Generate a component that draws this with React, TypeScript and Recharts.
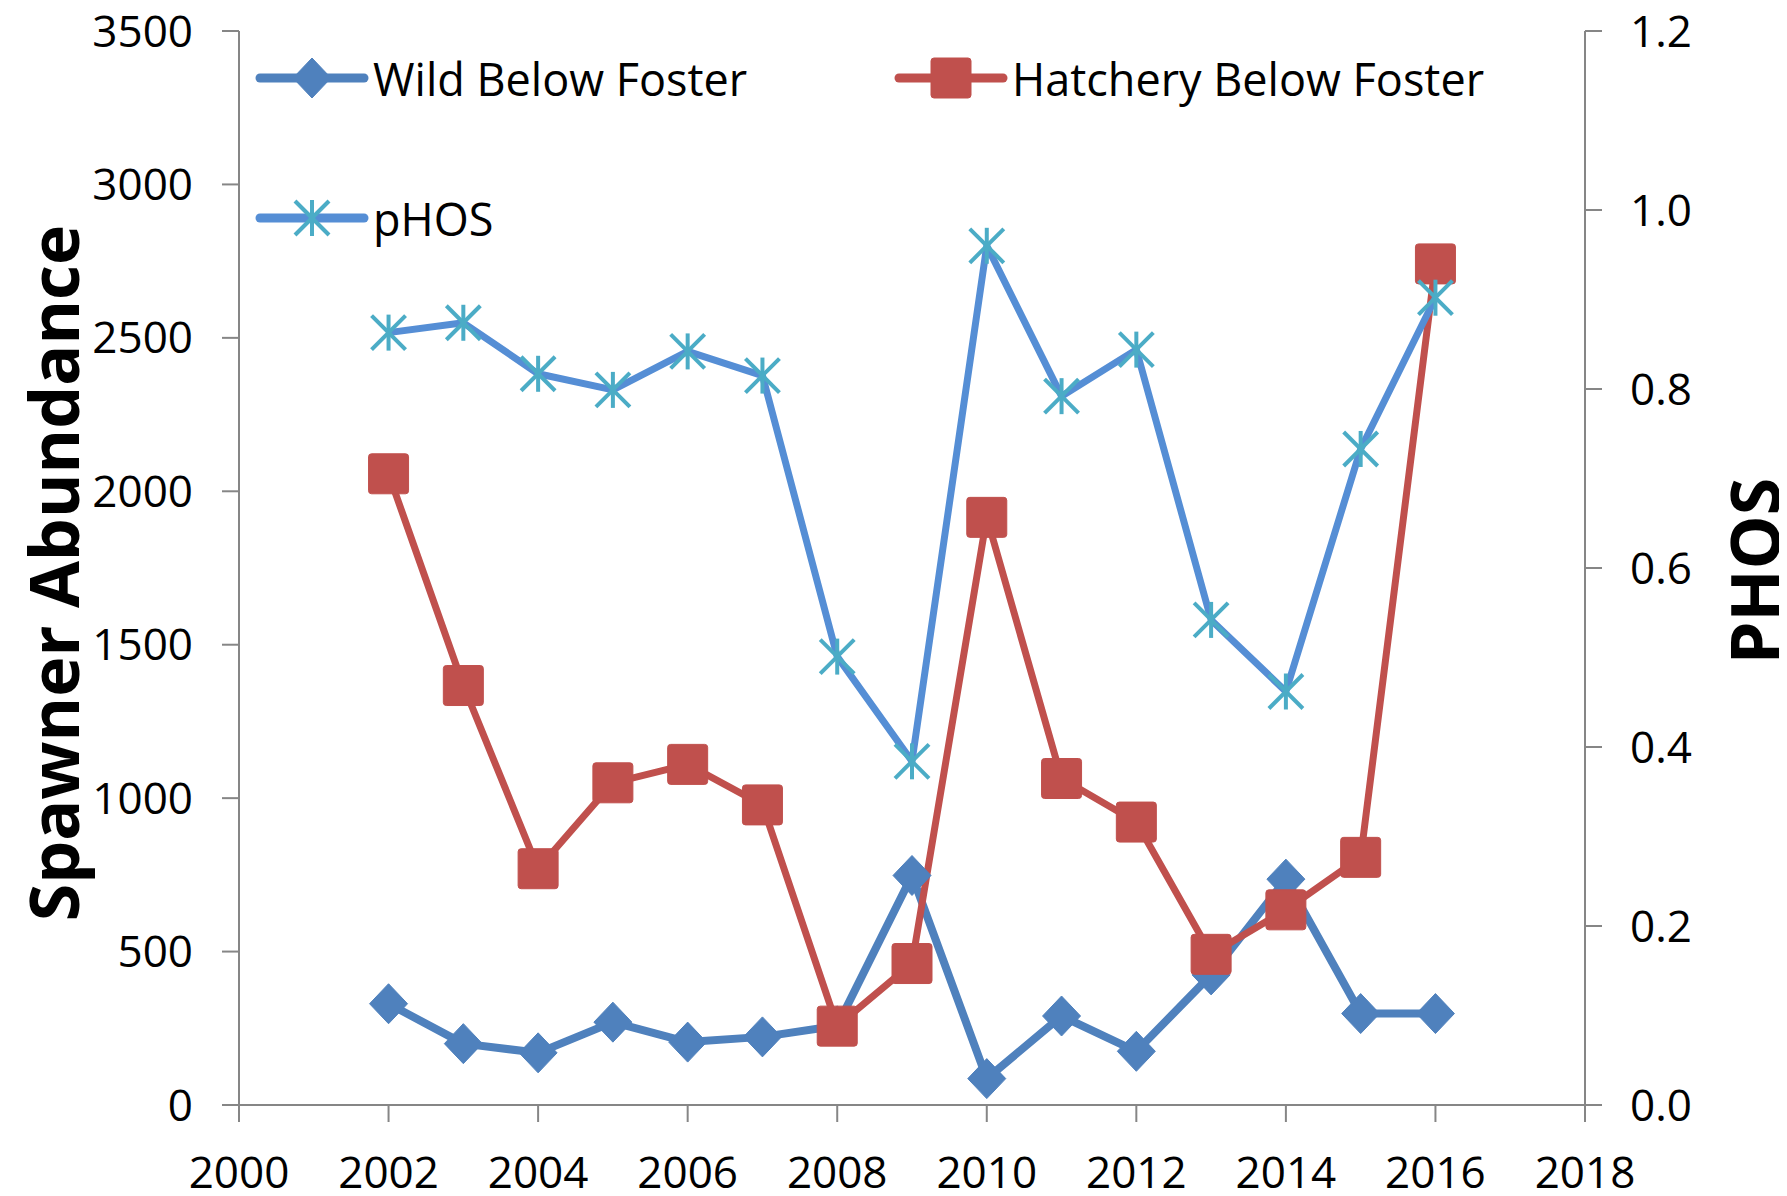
import React from "react";
import { LineChart, Line, XAxis, YAxis, Legend } from "recharts";

// values
const years = [2002, 2003, 2004, 2005, 2006, 2007, 2008, 2009, 2010, 2011, 2012, 2013, 2014, 2015, 2016];
const wildBelowFoster = [330, 200, 170, 270, 205, 222, 258, 748, 86, 290, 175, 424, 736, 298, 298];
const hatcheryBelowFoster = [2057, 1367, 770, 1050, 1110, 978, 257, 461, 1915, 1064, 922, 491, 636, 807, 2741];
const pHOS = [0.863, 0.874, 0.817, 0.799, 0.842, 0.815, 0.501, 0.384, 0.96, 0.792, 0.844, 0.542, 0.462, 0.733, 0.902];

const xTicks = [2000, 2002, 2004, 2006, 2008, 2010, 2012, 2014, 2016, 2018];
const leftTicks = [0, 500, 1000, 1500, 2000, 2500, 3000, 3500];
const rightTicks = [0, 0.2, 0.4, 0.6, 0.8, 1.0, 1.2];

const data = years.map((year, i) => ({
  year,
  wild: wildBelowFoster[i],
  hatchery: hatcheryBelowFoster[i],
  phos: pHOS[i],
}));

const BLUE = "#4F81BD";
const RED = "#C0504D";
const PHOS_LINE = "#558ED5";
const PHOS_MARK = "#4BACC6";
const AXIS = "#868686";
const FONT = "'Open Sans', 'Liberation Sans', sans-serif";

const W = 1779;
const H = 1188;

const diamond = (cx: number, cy: number, key?: string) => (
  <polygon
    key={key}
    points={`${cx},${cy - 20} ${cx + 19},${cy} ${cx},${cy + 20} ${cx - 19},${cy}`}
    fill={BLUE}
    stroke={BLUE}
    strokeWidth={1}
  />
);

const square = (cx: number, cy: number, key?: string) => (
  <rect key={key} x={cx - 20} y={cy - 20} width={40} height={40} rx={3} fill={RED} stroke={RED} />
);

const star = (cx: number, cy: number, key?: string) => (
  <g key={key} stroke={PHOS_MARK} strokeWidth={4} strokeLinecap="butt">
    <line x1={cx} y1={cy - 18} x2={cx} y2={cy + 18} />
    <line x1={cx - 17} y1={cy - 17} x2={cx + 17} y2={cy + 17} />
    <line x1={cx - 17} y1={cy + 17} x2={cx + 17} y2={cy - 17} />
  </g>
);

const WildDot = (p: any) => diamond(p.cx, p.cy, `w-${p.index}`);
const HatcheryDot = (p: any) => square(p.cx, p.cy, `h-${p.index}`);
const PhosDot = (p: any) => star(p.cx, p.cy, `p-${p.index}`);

const legendItems = [
  { label: "Wild Below Foster", color: BLUE, x: 252, y: 70, mark: diamond },
  { label: "Hatchery Below Foster", color: RED, x: 891, y: 70, mark: square },
  { label: "pHOS", color: PHOS_LINE, x: 252, y: 210, mark: star },
];

const renderLegend = () => (
  <svg width={W} height={260} style={{ display: "block" }}>
    {legendItems.map((it) => (
      <g key={it.label}>
        <line x1={it.x} y1={it.y} x2={it.x + 104} y2={it.y} stroke={it.color} strokeWidth={9} strokeLinecap="round" />
        {it.mark(it.x + 52, it.y)}
        <text x={it.x + 113} y={it.y} dominantBaseline="central" fontSize={45} fontFamily={FONT} fill="#000">
          {it.label}
        </text>
      </g>
    ))}
  </svg>
);

const tickStyle = { fontSize: 44, fontFamily: FONT, fill: "#000" };

const axisTitle = (label: string, x: number, y: number) => () => (
  <text
    x={x}
    y={y}
    transform={`rotate(-90, ${x}, ${y})`}
    textAnchor="middle"
    dominantBaseline="central"
    fontSize={68}
    fontWeight="bold"
    fontFamily={FONT}
    fill="#000"
  >
    {label}
  </text>
);

export default function App() {
  return (
    <div style={{ width: W, height: H, position: "relative", background: "#fff" }}>
      <LineChart width={W} height={H} data={data} margin={{ top: 23, right: 52, bottom: 11, left: 31 }}>
        <XAxis
          type="number"
          dataKey="year"
          domain={[2000, 2018]}
          ticks={xTicks}
          interval={0}
          height={80}
          tickSize={17}
          tickMargin={35}
          stroke={AXIS}
          strokeWidth={2}
          tick={tickStyle}
        />
        <YAxis
          yAxisId="left"
          domain={[0, 3500]}
          ticks={leftTicks}
          interval={0}
          width={200}
          tickSize={17}
          tickMargin={29}
          stroke={AXIS}
          strokeWidth={2}
          tick={tickStyle}
          label={{ content: axisTitle("Spawner Abundance", 44, 565) }}
        />
        <YAxis
          yAxisId="right"
          orientation="right"
          domain={[0, 1.2]}
          ticks={rightTicks}
          interval={0}
          width={150}
          tickSize={17}
          tickMargin={28}
          stroke={AXIS}
          strokeWidth={2}
          tick={tickStyle}
          tickFormatter={(v: number) => v.toFixed(1)}
          label={{ content: axisTitle("PHOS", 1745, 563) }}
        />
        <Legend
          verticalAlign="middle"
          align="center"
          content={renderLegend}
          wrapperStyle={{ position: "absolute", top: 0, left: 0, width: W, height: 260 }}
        />
        <Line
          yAxisId="left"
          type="linear"
          dataKey="wild"
          stroke={BLUE}
          strokeWidth={8}
          strokeLinejoin="round"
          dot={WildDot}
          activeDot={false}
          isAnimationActive={false}
        />
        <Line
          yAxisId="left"
          type="linear"
          dataKey="hatchery"
          stroke={RED}
          strokeWidth={7}
          strokeLinejoin="round"
          dot={HatcheryDot}
          activeDot={false}
          isAnimationActive={false}
        />
        <Line
          yAxisId="right"
          type="linear"
          dataKey="phos"
          stroke={PHOS_LINE}
          strokeWidth={7}
          strokeLinejoin="round"
          dot={PhosDot}
          activeDot={false}
          isAnimationActive={false}
        />
      </LineChart>
    </div>
  );
}
